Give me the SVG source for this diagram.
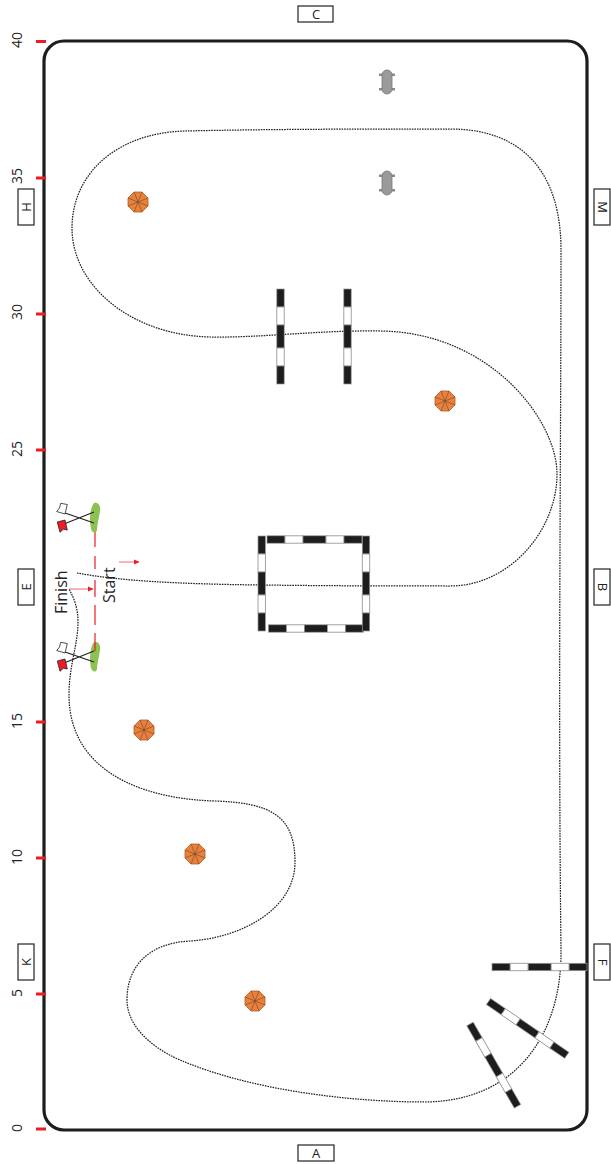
<svg xmlns="http://www.w3.org/2000/svg" width="611" height="1164" viewBox="0 0 611 1164">
<style>
.lbl{fill:#fff;stroke:#222;stroke-width:1.2}
.t{font-family:"Open Sans","DejaVu Sans",sans-serif;fill:#222}
.n{font-size:14px}
.c{font-size:13px;text-anchor:middle}
.tick{stroke:#ed1c24;stroke-width:3}
.path{fill:none;stroke:#222;stroke-width:1.25;stroke-dasharray:1.6 1}
.pb{fill:#1d1d1b;stroke:#999;stroke-width:.7}
.pw{fill:#fff;stroke:#999;stroke-width:.9}
.arr{stroke:#f04050;stroke-width:.8;fill:none;marker-end:url(#ah)}
.fl{stroke:#222;stroke-width:1.2;fill:none}
</style>
<defs>
<marker id="ah" markerWidth="6" markerHeight="6" refX="5" refY="3" orient="auto" markerUnits="userSpaceOnUse"><path d="M0,0.5L5.500,3L0,5.500z" fill="#ed1c24"/></marker>
<g id="cone">
<polygon points="-4,-10 4,-10 10,-4 10,4 4,10 -4,10 -10,4 -10,-4" fill="#e9803c" stroke="#b35a22" stroke-width=".8"/>
<path d="M-4,-10L4,10M4,-10L-4,10M-10,-4L10,4M-10,4L10,-4" stroke="#6b4a2c" stroke-width=".6"/>
</g>
<g id="barrel">
<rect x="-8" y="-8.500" width="16" height="2.500" fill="#8c8c8c"/>
<rect x="-8" y="6" width="16" height="2.500" fill="#8c8c8c"/>
<rect x="-5" y="-12" width="10" height="24" rx="5" fill="#9a9a9a" stroke="#777" stroke-width=".8"/>
</g>
<g id="vpole">
<rect x="-3.700" y="0" width="7.400" height="18" class="pb"/><rect x="-3.700" y="18" width="7.400" height="18" class="pw"/><rect x="-3.700" y="36" width="7.400" height="23" class="pb"/><rect x="-3.700" y="59" width="7.400" height="18" class="pw"/><rect x="-3.700" y="77" width="7.400" height="18" class="pb"/>
</g>
</defs>
<g id="arena"><rect x="44" y="41" width="543" height="1089" rx="20" fill="none" stroke="#1d1d1b" stroke-width="3.200"/></g>
<g id="ticks">
<path class="tick" d="M36,41.500h10M36,178h10M36,314h10M36,450h10M36,722h10M36,858h10M36,994h10M36,1129h10"/>
</g>
<g id="numbers" class="t n">
<text transform="translate(21.500,40) rotate(-90)" text-anchor="middle">40</text>
<text transform="translate(21.500,176) rotate(-90)" text-anchor="middle">35</text>
<text transform="translate(21.500,312) rotate(-90)" text-anchor="middle">30</text>
<text transform="translate(21.500,449) rotate(-90)" text-anchor="middle">25</text>
<text transform="translate(21.500,721) rotate(-90)" text-anchor="middle">15</text>
<text transform="translate(21.500,857) rotate(-90)" text-anchor="middle">10</text>
<text transform="translate(21.500,993) rotate(-90)" text-anchor="middle">5</text>
<text transform="translate(21.500,1128) rotate(-90)" text-anchor="middle">0</text>
</g>
<g id="letter-C"><rect class="lbl" x="298" y="6" width="35" height="16"/><text class="t c" x="316" y="19">C</text></g>
<g id="letter-A"><rect class="lbl" x="298" y="1145" width="36" height="16"/><text class="t c" x="316" y="1158">A</text></g>
<g id="letter-H"><rect class="lbl" x="18" y="189" width="16" height="36"/><text class="t c" transform="translate(31,207) rotate(-90)">H</text></g>
<g id="letter-E"><rect class="lbl" x="18" y="569" width="16" height="36"/><text class="t c" transform="translate(31,587) rotate(-90)">E</text></g>
<g id="letter-K"><rect class="lbl" x="18" y="944" width="16" height="36"/><text class="t c" transform="translate(31,962) rotate(-90)">K</text></g>
<g id="letter-M"><rect class="lbl" x="594" y="189" width="16" height="36"/><text class="t c" transform="translate(598,207) rotate(90)">M</text></g>
<g id="letter-B"><rect class="lbl" x="594" y="569" width="16" height="36"/><text class="t c" transform="translate(598,587) rotate(90)">B</text></g>
<g id="letter-F"><rect class="lbl" x="594" y="944" width="16" height="36"/><text class="t c" transform="translate(598,962) rotate(90)">F</text></g>
<g id="connectors">
<path class="path" d="M77,573C120,581 180,584 260,585C340,586 400,586 450,586C510,586 557,530 557,474C557,420 490,332 380,331C320,330 260,338 210,337C130,335 72,285 72,228C72,175 115,133 185,131C270,129 380,129 450,129C525,129 561,175 561,250C561,450 558,700 561,950C562,1030 520,1101 425,1102C350,1102 250,1090 180,1060C150,1047 127,1025 127,1000C127,965 150,943 190,941C240,938 295,910 295,862C295,815 270,803 215,801C140,799 69,770 69,695C69,665 78,645 78,622C78,608 74,598 69,589"/>
</g>
<g id="cone1"><use href="#cone" x="138" y="202"/></g>
<g id="cone2"><use href="#cone" x="445" y="401"/></g>
<g id="cone3"><use href="#cone" x="144" y="730"/></g>
<g id="cone4"><use href="#cone" x="195" y="854"/></g>
<g id="cone5"><use href="#cone" x="255" y="1001"/></g>
<g id="barrel1"><use href="#barrel" x="387" y="82"/></g>
<g id="barrel2"><use href="#barrel" x="387" y="183"/></g>
<g id="poles-a"><use href="#vpole" x="280.500" y="289"/></g>
<g id="poles-b"><use href="#vpole" x="347.500" y="289"/></g>
<g id="box">
<g transform="translate(267,539.500) rotate(-90)"><use href="#vpole" transform="scale(-1,1)"/></g>
<g transform="translate(268.500,628.500) rotate(-90)"><use href="#vpole"/></g>
<use href="#vpole" x="261.700" y="536"/>
<use href="#vpole" x="366" y="536"/>
</g>
<g id="pole-f"><g transform="translate(587,967) rotate(90)"><use href="#vpole"/></g></g>
<g id="pole-d1"><g transform="translate(488.500,1001.500) rotate(-55.500)"><use href="#vpole"/></g></g>
<g id="pole-d2"><g transform="translate(470,1024) rotate(-30)"><use href="#vpole"/></g></g>
<g id="finish">
<path d="M95,532v15M95,556v13M95,580v17M95,605v20M95,633v18" stroke="#ed1c24" stroke-width="1.200" fill="none"/>
<path class="arr" d="M69,589H93"/>
<path class="arr" d="M119,562H139"/>
<g id="flag-top">
<path d="M94,503C98,502 101,506 100,511C99,518 97,525 97,530C96,534 92,533 91,529C89,520 90,508 94,503z" fill="#8dc153"/>
<path class="fl" d="M94,512L64,524M94,523L65,513"/>
<path d="M57.300,522L65,520L67.300,530L63.300,529.300L60,532.300z" fill="#ed1c24" stroke="#222" stroke-width=".8"/>
<path d="M60.700,503.300L67.300,504.500L65,514L56.700,511.500L59.500,508z" fill="#fff" stroke="#222" stroke-width=".8"/>
</g>
<g id="flag-bottom">
<path d="M94,642C98,641 101,645 100,650C99,657 97,664 97,669C96,673 92,672 91,668C89,659 90,647 94,642z" fill="#8dc153"/>
<path d="M95,642v9" stroke="#ed1c24" stroke-width="1.200"/>
<path class="fl" d="M94,651L64,663M94,662L65,652"/>
<path d="M57.300,661L65,659L67.300,669L63.300,668.300L60,671.300z" fill="#ed1c24" stroke="#222" stroke-width=".8"/>
<path d="M60.700,642.300L67.300,643.500L65,653L56.700,650.500L59.500,647z" fill="#fff" stroke="#222" stroke-width=".8"/>
</g>
<text class="t" font-size="16" transform="translate(67,614) rotate(-90)">Finish</text>
<text class="t" font-size="16" transform="translate(115,603) rotate(-90)">Start</text>
</g>
</svg>
